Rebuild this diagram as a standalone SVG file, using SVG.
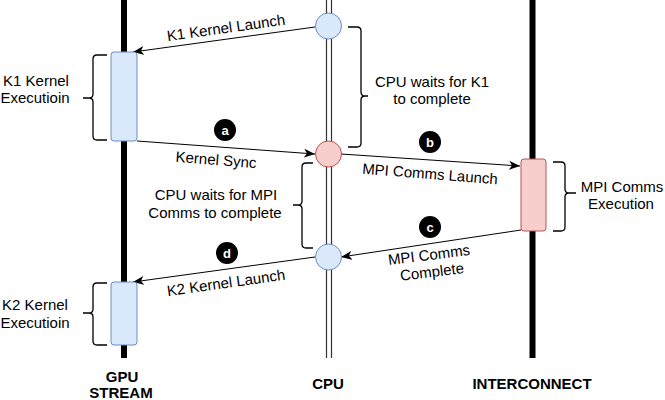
<svg xmlns="http://www.w3.org/2000/svg" width="665" height="400" viewBox="0 0 665 400">
<style>
.t{font-family:"Liberation Sans",Arial,sans-serif;font-size:15px;fill:#000;text-anchor:middle}
.b{font-family:"Liberation Sans",Arial,sans-serif;font-size:15px;font-weight:bold;fill:#000;text-anchor:middle}
.bt{font-family:"Liberation Sans",Arial,sans-serif;font-size:13px;font-weight:bold;fill:#fff;text-anchor:middle}
.conn{stroke:#000;stroke-width:1;fill:none;marker-end:url(#arr)}
.brace{stroke:#000;stroke-width:1.3;fill:none}
.blue{fill:#dae8fc;stroke:#6c8ebf;stroke-width:1}
.red{fill:#f8cecc;stroke:#b85450;stroke-width:1}
.badge{fill:#000}
</style>
<defs>
<marker id="arr" markerUnits="userSpaceOnUse" markerWidth="12" markerHeight="10" refX="11" refY="5" orient="auto">
<path d="M0,0.5 L11,5 L0,9.5 L3,5 Z" fill="#000"/>
</marker>
</defs>
<rect width="665" height="400" fill="#fff"/>

<g id="lifelines">
<line x1="124" y1="0" x2="124" y2="358" stroke="#000" stroke-width="6"/>
<line x1="326.5" y1="0" x2="326.5" y2="358" stroke="#333" stroke-width="1.2"/>
<line x1="331.5" y1="0" x2="331.5" y2="358" stroke="#333" stroke-width="1.2"/>
<line x1="532.5" y1="0" x2="532.5" y2="358" stroke="#000" stroke-width="6"/>
</g>

<g id="connectors">
<path class="conn" d="M315,27 L133,52"/>
<path class="conn" d="M137,141 L315,154"/>
<path class="conn" d="M341,154 L520,166"/>
<path class="conn" d="M521,230 L341,257"/>
<path class="conn" d="M315,257 L133,282"/>
</g>

<g id="k1-box"><rect class="blue" x="111" y="52" width="26" height="89" rx="3"/></g>
<g id="k2-box"><rect class="blue" x="111" y="282" width="26" height="63" rx="3"/></g>
<g id="mpi-box"><rect class="red" x="521" y="159" width="25" height="72" rx="3"/></g>

<g id="cpu-launch-k1"><circle class="blue" cx="328.5" cy="26" r="13"/></g>
<g id="cpu-sync"><circle class="red" cx="328.5" cy="154" r="13"/></g>
<g id="cpu-launch-k2"><circle class="blue" cx="328.5" cy="257" r="13"/></g>

<g id="brace-k1">
<path class="brace" d="M107,55 L97,55 Q93,55 93,59 L93,94 Q93,98 89,98 L83,98 M89,98 Q93,98 93,102 L93,136 Q93,140 97,140 L107,140"/>
<text class="t" x="36" y="86">K1 Kernel</text>
<text class="t" x="35" y="103">Executioin</text>
</g>

<g id="brace-k2">
<path class="brace" d="M107,283 L97,283 Q93,283 93,287 L93,309 Q93,313 89,313 L83,313 M89,313 Q93,313 93,317 L93,341 Q93,345 97,345 L107,345"/>
<text class="t" x="35" y="310">K2 Kernel</text>
<text class="t" x="35" y="328">Executioin</text>
</g>

<g id="brace-cpu-k1">
<path class="brace" d="M348,27 L357,27 Q361,27 361,31 L361,92 Q361,96 365,96 L368,96 M365,96 Q361,96 361,100 L361,143 Q361,147 357,147 L348,147"/>
<text class="t" x="432" y="87">CPU waits for K1</text>
<text class="t" x="432" y="104">to complete</text>
</g>

<g id="brace-cpu-mpi">
<path class="brace" d="M313,163 L306,163 Q302,163 302,167 L302,201 Q302,205 298,205 L293,205 M298,205 Q302,205 302,209 L302,244 Q302,248 306,248 L313,248"/>
<text class="t" x="216" y="200">CPU waits for MPI</text>
<text class="t" x="215" y="218">Comms to complete</text>
</g>

<g id="brace-mpi">
<path class="brace" d="M553,162 L561,162 Q565,162 565,166 L565,189 Q565,193 569,193 L576,193 M569,193 Q565,193 565,197 L565,227 Q565,231 561,231 L553,231"/>
<text class="t" x="622" y="192">MPI Comms</text>
<text class="t" x="621" y="209">Execution</text>
</g>

<g id="labels">
<text class="t" transform="translate(226,28) rotate(-8)" y="5">K1 Kernel Launch</text>
<text class="t" transform="translate(216,160) rotate(4.5)" y="5">Kernel Sync</text>
<text class="t" transform="translate(430,174) rotate(4.5)" y="5">MPI Comms Launch</text>
<text class="t" transform="translate(429,255) rotate(-7)" y="5">MPI Comms</text>
<text class="t" transform="translate(432,272) rotate(-7)" y="5">Complete</text>
<text class="t" transform="translate(226,283) rotate(-8)" y="5">K2 Kernel Launch</text>
</g>

<g id="badge-a"><circle class="badge" cx="225" cy="130" r="11"/><text class="bt" x="225" y="134.5">a</text></g>
<g id="badge-b"><circle class="badge" cx="430" cy="142" r="11"/><text class="bt" x="430" y="146.5">b</text></g>
<g id="badge-c"><circle class="badge" cx="430" cy="227" r="11"/><text class="bt" x="430" y="231.5">c</text></g>
<g id="badge-d"><circle class="badge" cx="227" cy="253" r="11"/><text class="bt" x="227" y="257.5">d</text></g>

<g id="axis-labels">
<text class="b" x="122" y="382">GPU</text>
<text class="b" x="121" y="398">STREAM</text>
<text class="b" x="328" y="389">CPU</text>
<text class="b" x="532" y="389">INTERCONNECT</text>
</g>
</svg>
